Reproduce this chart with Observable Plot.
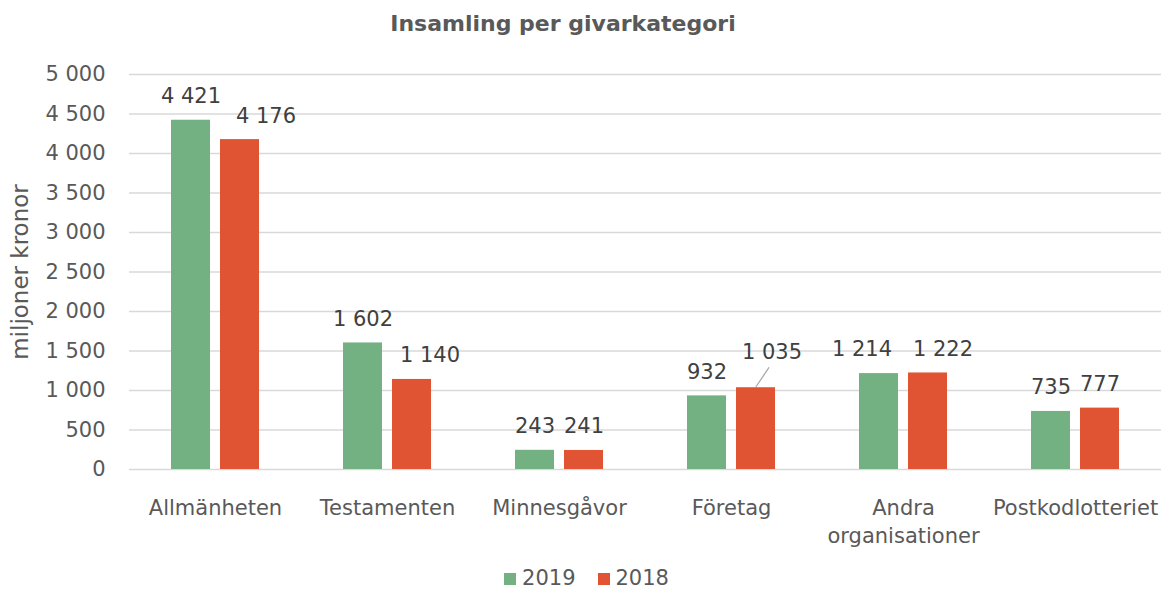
<!DOCTYPE html>
<html>
<head>
<meta charset="utf-8">
<script src="https://cdn.jsdelivr.net/npm/d3@7"></script>
<script src="https://cdn.jsdelivr.net/npm/@observablehq/plot@0.6"></script>
<style>
  html, body { margin: 0; padding: 0; background: #fff; }
  body { width: 1165px; height: 591px; overflow: hidden; font-family: "DejaVu Sans", sans-serif; }
  #title { width: 1126px; height: 44px; line-height: 48px; text-align: center; font-weight: bold; font-size: 22px; color: #595959; }
  #legend { display: flex; justify-content: center; align-items: center; height: 25px; font-size: 21px; line-height: 25px; color: #595959; padding-left: 8px; }
  .sw { display: inline-block; width: 12px; height: 12px; margin-right: 6px; }
  .item { display: flex; align-items: center; margin: 0 11px; }
</style>
</head>
<body>
<div id="title">Insamling per givarkategori</div>
<div id="chart"></div>
<div id="legend"></div>
<script>
const categories = ["Allmänheten", "Testamenten", "Minnesgåvor", "Företag", "Andra organisationer", "Postkodlotteriet"];
const years = ["2019", "2018"];
const values2019 = [4421, 1602, 243, 932, 1214, 735];
const values2018 = [4176, 1140, 241, 1035, 1222, 777];
const yTicks = [0, 500, 1000, 1500, 2000, 2500, 3000, 3500, 4000, 4500, 5000];
const colors = ["#73B182", "#E05433"];

const data = [];
categories.forEach((c, i) => {
  data.push({category: c, year: "2019", value: values2019[i]});
  data.push({category: c, year: "2018", value: values2018[i]});
});

const loc = d3.formatLocale({decimal: ",", thousands: "\u00a0", grouping: [3], currency: ["", ""]});
const fmt = loc.format(",d");

// label nudges (style only), keyed by category|year
const nudges = {
  "Allmänheten|2018": [26, -23],
  "Testamenten|2018": [18, -24],
  "Andra organisationer|2019": [-17, -24],
  "Andra organisationer|2018": [15, -24],
  "Företag|2018": [16, -35]
};
const key = d => d.category + "|" + d.year;

const labelCommon = {fx: "category", x: "year", y: "value", text: d => fmt(d.value), fill: "#404040", fontSize: 21, lineAnchor: "middle"};
const labelMarks = [Plot.text(data.filter(d => !nudges[key(d)]), {...labelCommon, dy: -24})];
for (const k of Object.keys(nudges)) {
  const [dx, dy] = nudges[k];
  labelMarks.push(Plot.text(data.filter(d => key(d) === k), {...labelCommon, dx, dy}));
}

const leaderData = data.filter(d => key(d) === "Företag|2018");
let leader;
try {
  leader = Plot.vector(leaderData, {fx: "category", x: "year", y: "value", length: 23, rotate: 34, anchor: "start", dy: -1, stroke: "#a6a6a6", strokeWidth: 1.2,
    shape: {draw(ctx, l) { ctx.moveTo(0, 0); ctx.lineTo(0, -l); }}});
} catch (e) {
  leader = Plot.vector(leaderData, {fx: "category", x: "year", y: "value", length: 23, rotate: 34, anchor: "start", dy: -1, stroke: "#a6a6a6", strokeWidth: 1.2});
}

const chart = Plot.plot({
  width: 1165,
  height: 522,
  marginLeft: 127,
  marginRight: 2,
  marginTop: 30,
  marginBottom: 97,
  style: {fontFamily: "DejaVu Sans, sans-serif", fontSize: "21px", color: "#595959", background: "#fff"},
  fx: {domain: categories, paddingInner: 0, paddingOuter: 0, label: null},
  x: {domain: years, paddingInner: 0.2, paddingOuter: 0.827, axis: null},
  y: {domain: [0, 5000], label: "miljoner kronor"},
  color: {domain: years, range: colors},
  marks: [
    Plot.gridY(yTicks, {stroke: "#d9d9d9", strokeOpacity: 1, strokeWidth: 1.5}),
    Plot.axisY(yTicks, {tickFormat: fmt, tickSize: 0, tickPadding: 24, fontSize: 21, fill: "#595959", label: null}),
    Plot.axisY([], {tickSize: 0, fontSize: 23, fill: "#595959",
      label: "miljoner kronor", labelAnchor: "center", labelOffset: 118, labelArrow: "none"}),
    Plot.axisFx({anchor: "bottom", tickSize: 0, tickPadding: 25, fontSize: 21, fill: "#595959", lineHeight: 1.35,
      tickFormat: d => d.replace(" ", "\n"), label: null}),
    Plot.barY(data, {fx: "category", x: "year", y: "value", fill: "year"}),
    leader,
    ...labelMarks
  ]
});
document.getElementById("chart").appendChild(chart);

const legend = document.getElementById("legend");
years.forEach((y, i) => {
  const item = document.createElement("span");
  item.className = "item";
  const sw = document.createElement("span");
  sw.className = "sw";
  sw.style.background = colors[i];
  item.appendChild(sw);
  item.appendChild(document.createTextNode(y));
  legend.appendChild(item);
});
</script>
</body>
</html>
